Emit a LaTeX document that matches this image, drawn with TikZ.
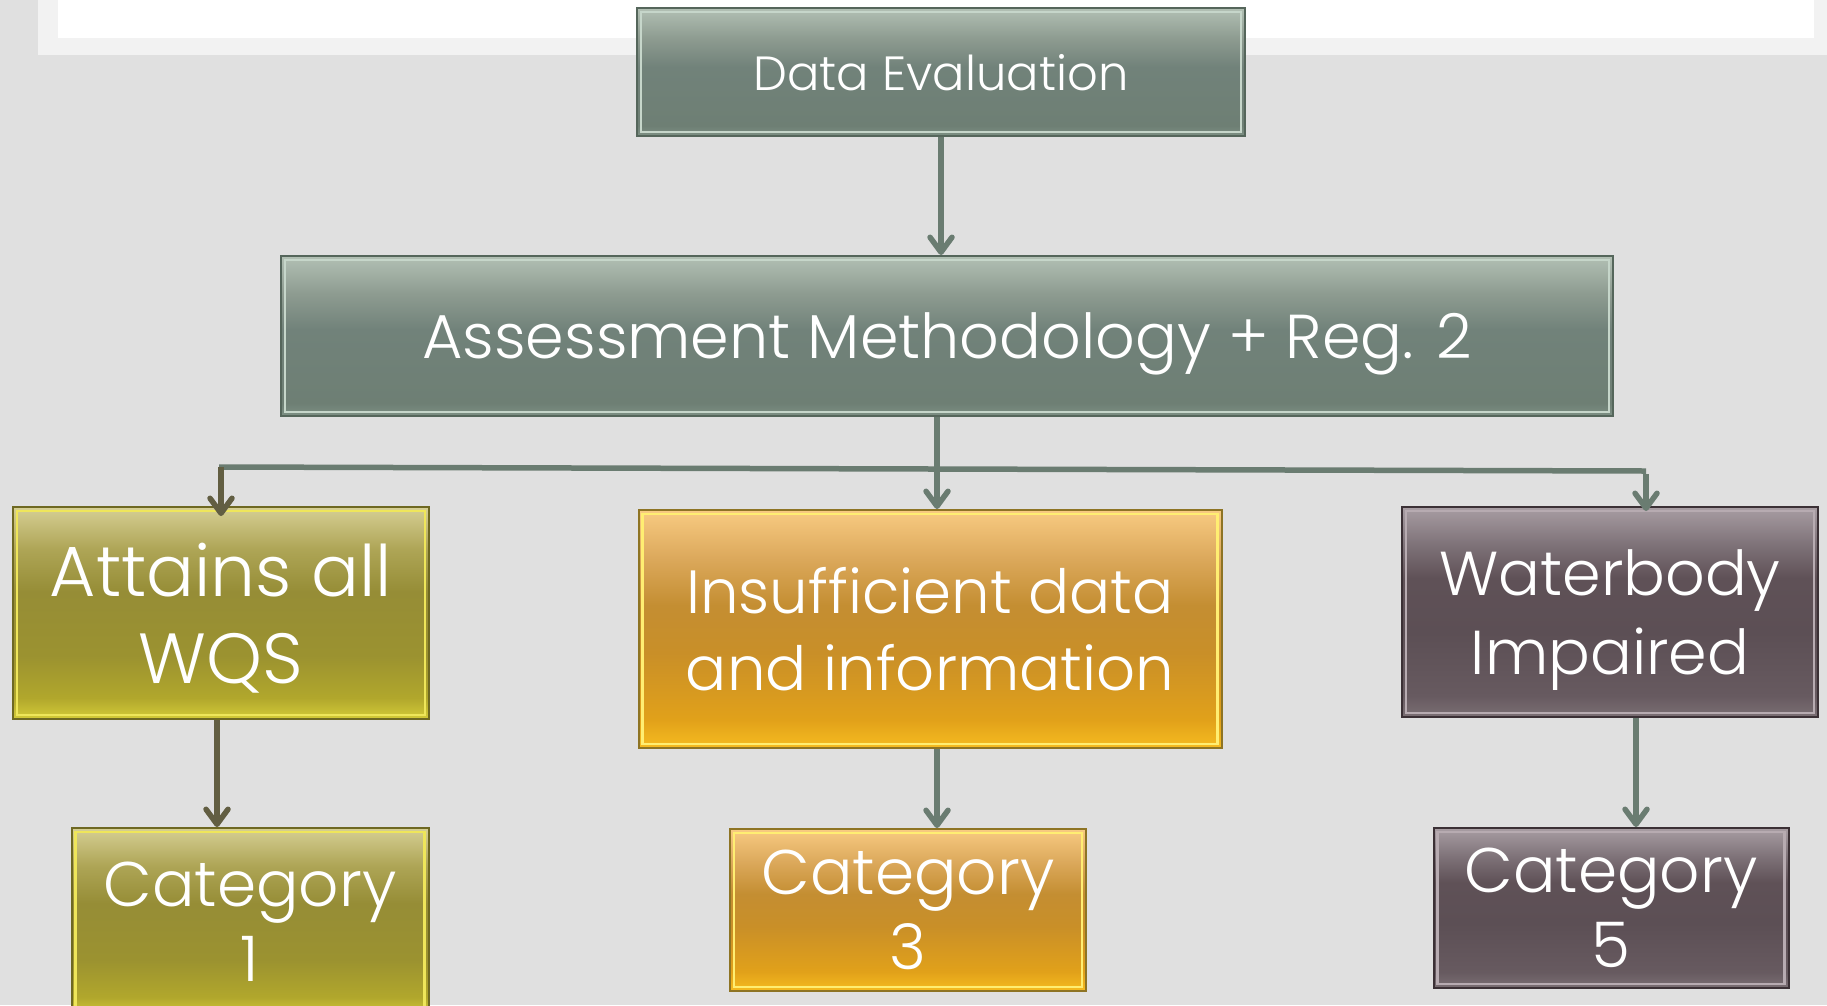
\documentclass[tikz,border=0pt]{standalone}
\usepackage{fontspec}
\setmainfont{Poppins}[UprightFont=* Light]
\usepackage{tikz}
\usetikzlibrary{arrows.meta}

\definecolor{slideGrey}{HTML}{E0E0E0}
\definecolor{panelGrey}{HTML}{F2F2F2}
\definecolor{sageLine}{HTML}{55665B}
\definecolor{sageLite}{HTML}{C6D6CA}
\definecolor{sageLink}{HTML}{6A7C71}
\definecolor{oliveLine}{HTML}{6E6822}
\definecolor{oliveLite}{HTML}{EFE65A}
\definecolor{oliveLink}{HTML}{625E42}
\definecolor{amberLine}{HTML}{8E7424}
\definecolor{amberLite}{HTML}{FFEE72}
\definecolor{mauveLine}{HTML}{3B3035}
\definecolor{mauveLite}{HTML}{B7ABB1}

% box gradients (path spans 25bp..75bp)
\pgfdeclareverticalshading{sageShade}{100bp}{rgb(0bp)=(0.490,0.565,0.518); rgb(25bp)=(0.490,0.565,0.518); rgb(29bp)=(0.431,0.498,0.455); rgb(52bp)=(0.443,0.510,0.478); rgb(63bp)=(0.553,0.608,0.565); rgb(75bp)=(0.698,0.753,0.706); rgb(100bp)=(0.698,0.753,0.706)}
\pgfdeclareverticalshading{oliveShade}{100bp}{rgb(0bp)=(0.831,0.796,0.220); rgb(25bp)=(0.831,0.796,0.220); rgb(30bp)=(0.694,0.655,0.173); rgb(40bp)=(0.608,0.573,0.188); rgb(55bp)=(0.588,0.553,0.212); rgb(65bp)=(0.682,0.647,0.337); rgb(75bp)=(0.839,0.812,0.580); rgb(100bp)=(0.839,0.812,0.580)}
\pgfdeclareverticalshading{amberShade}{100bp}{rgb(0bp)=(0.965,0.737,0.125); rgb(25bp)=(0.965,0.737,0.125); rgb(31bp)=(0.882,0.631,0.102); rgb(45bp)=(0.788,0.561,0.157); rgb(55bp)=(0.769,0.557,0.196); rgb(65bp)=(0.863,0.663,0.361); rgb(75bp)=(0.973,0.796,0.510); rgb(100bp)=(0.973,0.796,0.510)}
\pgfdeclareverticalshading{mauveShade}{100bp}{rgb(0bp)=(0.482,0.435,0.455); rgb(25bp)=(0.482,0.435,0.455); rgb(30bp)=(0.404,0.353,0.376); rgb(45bp)=(0.361,0.310,0.333); rgb(58bp)=(0.373,0.318,0.341); rgb(66bp)=(0.494,0.447,0.471); rgb(75bp)=(0.659,0.616,0.639); rgb(100bp)=(0.659,0.616,0.639)}

\newcommand{\boxtext}[2]{\fontsize{#1}{#2}\selectfont}

\begin{document}
\begin{tikzpicture}[x=1pt, y=-1pt, >={Straight Barb[length=15pt,width=22pt,round]}]
  \tikzstyle{flowBox} = [rectangle, inner sep=0pt, align=center, text=white, text depth=0pt, line width=2pt]
  \tikzstyle{boxGlint} = [path picture={\draw[#1, line width=2.5pt] ([shift={(4pt,4pt)}]path picture bounding box.south west) rectangle ([shift={(-4pt,-4pt)}]path picture bounding box.north east);}]
  \tikzstyle{sageBox} = [flowBox, shading=sageShade, draw=sageLine, boxGlint=sageLite]
  \tikzstyle{oliveBox} = [flowBox, shading=oliveShade, draw=oliveLine, boxGlint=oliveLite]
  \tikzstyle{amberBox} = [flowBox, shading=amberShade, draw=amberLine, boxGlint=amberLite]
  \tikzstyle{mauveBox} = [flowBox, shading=mauveShade, draw=mauveLine, boxGlint=mauveLite]

  \tikzstyle{edgePortion} = [line width=5.5pt];
  \tikzstyle{sageEdge} = [edgePortion, sageLink, ->];
  \tikzstyle{oliveEdge} = [edgePortion, oliveLink, ->];

  % slide background and title strip
  \fill[slideGrey] (0,0) rectangle (1827,1005);
  \useasboundingbox (0,0) rectangle (1827,1005);
  \fill[panelGrey] (38,0) rectangle (1827,55);
  \fill[white] (58,0) rectangle (1814,38);

  \node[sageBox, minimum width=608pt, minimum height=128pt, font=\boxtext{48}{58}] (dataEval) at (941,72) {Data Evaluation};
  \node[sageBox, minimum width=1332pt, minimum height=160pt, font=\boxtext{62}{74}] (assess) at (947,336) {Assessment Methodology + Reg. 2};

  \node[oliveBox, minimum width=416pt, minimum height=212pt, font=\boxtext{71}{87}] (attains) at (221,613) {Attains all\\WQS};
  \node[amberBox, minimum width=583pt, minimum height=238pt, font=\boxtext{61}{77}] (insuff) at (930,629) {Insufficient data\\and information};
  \node[mauveBox, minimum width=416pt, minimum height=210pt, font=\boxtext{62}{79}] (impaired) at (1610,612) {Waterbody\\Impaired};

  \node[oliveBox, minimum width=357pt, minimum height=188pt, font=\boxtext{63}{75}] (cat1) at (250,922) {Category\\1};
  \node[amberBox, minimum width=356pt, minimum height=162pt, font=\boxtext{63}{75}] (cat3) at (908,910) {Category\\3};
  \node[mauveBox, minimum width=355pt, minimum height=160pt, font=\boxtext{63}{75}] (cat5) at (1611,908) {Category\\5};

  \coordinate (forkL) at (219,467);
  \coordinate (forkR) at (1646,471);

  \draw[edgePortion, sageLink] (forkL) -- (forkR);
  \path (dataEval.south) edge[sageEdge] (dataEval.south |- assess.north)
        ([xshift=-10pt]assess.south) edge[sageEdge] ([xshift=-10pt]assess.south |- insuff.north)
        (attains.north |- forkL) edge[oliveEdge] ([yshift=-10pt]attains.north)
        ([yshift=-3pt]forkR) edge[sageEdge] ([yshift=-5pt]forkR |- impaired.north)
        ([xshift=-4pt]attains.south) edge[oliveEdge] ([xshift=-4pt]attains.south |- cat1.north)
        ([xshift=7pt]insuff.south) edge[sageEdge] ([xshift=7pt]insuff.south |- cat3.north)
        ([xshift=26pt]impaired.south) edge[sageEdge] ([xshift=26pt]impaired.south |- cat5.north);
\end{tikzpicture}
\end{document}
